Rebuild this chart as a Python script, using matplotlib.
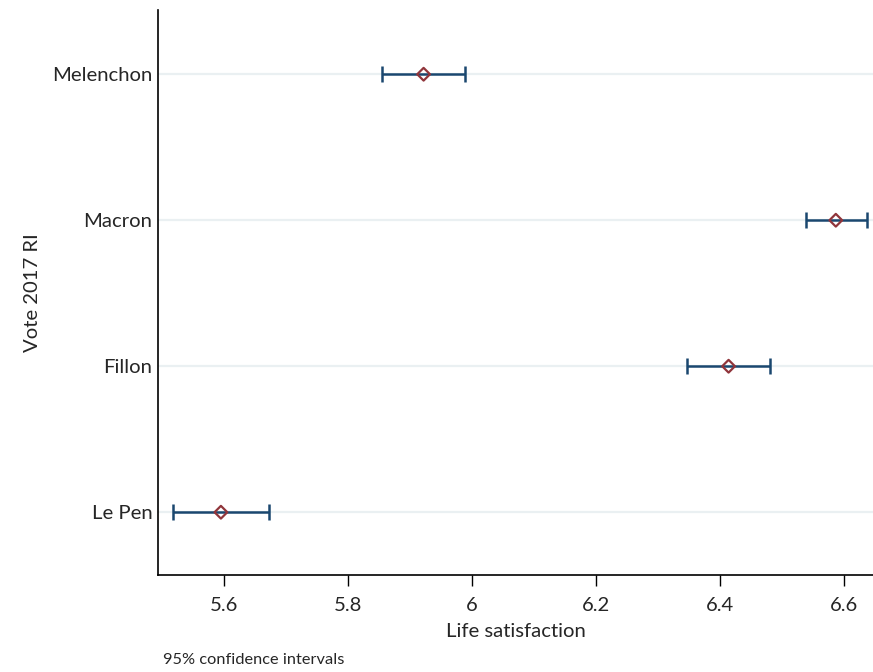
import matplotlib
matplotlib.use("Agg")
import matplotlib.pyplot as plt

# ── Data ─────────────────────────────────────────────────────────────────────
candidates = ["Le Pen", "Fillon", "Macron", "Melenchon"]
means = [5.595, 6.414, 6.587, 5.922]
ci_low = [5.518, 6.347, 6.539, 5.855]
ci_high = [5.673, 6.481, 6.637, 5.989]
xticks = [5.6, 5.8, 6.0, 6.2, 6.4, 6.6]
xtick_labels = ["5.6", "5.8", "6", "6.2", "6.4", "6.6"]

LINE_COLOR = "#1a476f"
MARKER_COLOR = "#90353b"
GRID_COLOR = "#eaf0f2"
TEXT_COLOR = "#262626"

plt.rcParams["font.family"] = ["Lato", "DejaVu Sans"]

fig = plt.figure(figsize=(8.73, 6.72), dpi=100)
ax = fig.add_axes([158 / 873, 1 - 575 / 672, 1 - 158 / 873, (575 - 10) / 672])

ypos = list(range(1, len(candidates) + 1))
for y in ypos:
    ax.axhline(y, color=GRID_COLOR, linewidth=1.6, zorder=0)

lower_err = [m - lo for m, lo in zip(means, ci_low)]
upper_err = [hi - m for m, hi in zip(means, ci_high)]
ax.errorbar(means, ypos, xerr=[lower_err, upper_err], fmt="none",
            ecolor=LINE_COLOR, elinewidth=1.8, capsize=6, capthick=1.8, zorder=2)
ax.scatter(means, ypos, marker="D", s=42, facecolors="none",
           edgecolors=MARKER_COLOR, linewidths=1.6, zorder=3)

ax.set_xlim(5.4935, 6.647)
ax.set_ylim(0.57, 4.44)
ax.set_xticks(xticks)
ax.set_xticklabels(xtick_labels)
ax.set_yticks(ypos)
ax.set_yticklabels(candidates)

for side in ("top", "right"):
    ax.spines[side].set_visible(False)
ax.spines["left"].set_linewidth(1.2)
ax.spines["bottom"].set_linewidth(1.2)
ax.tick_params(axis="x", length=8, width=1, labelsize=14.6, pad=8,
               colors="black", labelcolor=TEXT_COLOR)
ax.tick_params(axis="y", length=0, labelsize=14.6, pad=4, labelcolor=TEXT_COLOR)

ax.set_xlabel("Life satisfaction", fontsize=14.6, labelpad=6, color=TEXT_COLOR)
ax.set_ylabel("Vote 2017 RI", fontsize=14.6, labelpad=8, color=TEXT_COLOR)

fig.text(163 / 873, 1 - 660 / 672, "95% confidence intervals", fontsize=11.8,
         va="center", ha="left", color=TEXT_COLOR)

fig.savefig("out.png", dpi=100)
